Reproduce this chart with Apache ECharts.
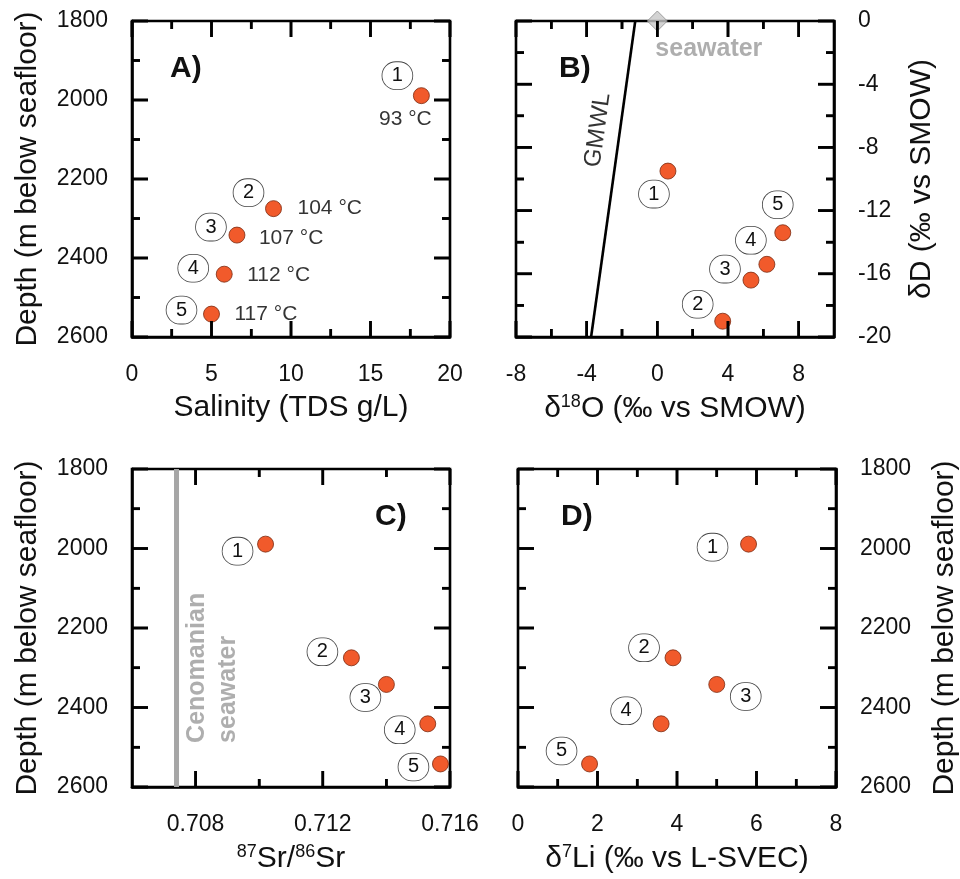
<!DOCTYPE html>
<html>
<head>
<meta charset="utf-8">
<script src="https://cdn.jsdelivr.net/npm/echarts@6/dist/echarts.min.js"></script>
<style>
  html, body { margin: 0; padding: 0; background: #fff; }
  #chart { width: 960px; height: 879px; }
</style>
</head>
<body>
<div id="chart"></div>
<script>
// fluid samples 1..5
const fluidIds = ['1', '2', '3', '4', '5'];
const depth = [1989, 2275, 2342, 2441, 2542];
const salinity = [18.2, 8.9, 6.6, 5.8, 5.0];
const temperature = [93, 104, 107, 112, 117];
const d18O = [0.6, 3.7, 5.3, 6.2, 7.1];
const dD = [-9.5, -19.0, -16.4, -15.4, -13.4];
const srRatio = [0.7102, 0.7129, 0.7140, 0.7153, 0.7157];
const d7Li = [5.8, 3.9, 5.0, 3.6, 1.8];

// reference lines
const seawater = [0, 0];
const gmwlO = [-3.75, -1.25];
const gmwlD = [-20, 0];
const cenomanianSr = 0.7074;

// tick labels (major ticks) and minor ticks
const depthTicks = [1800, 2000, 2200, 2400, 2600];
const depthMinor = [1900, 2100, 2300, 2500];
const salinityTicks = [0, 5, 10, 15, 20];
const salinityMinor = [2.5, 7.5, 12.5, 17.5];
const d18OTicks = [-8, -4, 0, 4, 8];
const d18OMinor = [-6, -2, 2, 6];
const dDTicks = [-20, -16, -12, -8, -4, 0];
const dDMinor = [-18, -14, -10, -6, -2];
const srTicks = [0.708, 0.712, 0.716];
const srMinor = [0.710, 0.714];
const liTicks = [0, 2, 4, 6, 8];
const liMinor = [1, 3, 5, 7];

// label offsets (px) for the circled numbers
const idOffsetA = [[-24, -20], [-25, -16], [-26, -8], [-31, -6], [-30, -4]];
const idOffsetB = [[-14, 23], [-25, -17], [-26, -11], [-16, -24], [-5, -28]];
const idOffsetC = [[-28, 7], [-29, -6], [-21, 13], [-28, 6], [-27, 3]];
const idOffsetD = [[-36, 3], [-29, -10], [29, 12], [-35, -13], [-28, -13]];
const tempOffsetA = [[-16, 24], [24, 0], [22, 3], [23, 1], [23, 0]];

const FONT = '"Liberation Sans", Arial, sans-serif';
const INK = '#111';
const MAJOR = 16, MINOR = 8, TICK_W = 2.6;

function onlyTicks(ticks, fmt) {
  return function (v) {
    for (let i = 0; i < ticks.length; i++) {
      if (Math.abs(ticks[i] - v) < 1e-9) return fmt ? fmt(v) : String(v);
    }
    return '';
  };
}

function axis(g, o, pos) {
  return {
    type: 'value', gridIndex: g, position: pos,
    min: o.min, max: o.max, interval: o.step, inverse: !!o.inverse,
    splitLine: { show: false },
    axisLine: { show: true, onZero: false, lineStyle: { color: '#000', width: 2.6 } },
    axisTick: { show: false },
    axisLabel: { formatter: onlyTicks(o.ticks, o.fmt), margin: o.margin,
      fontSize: 23, color: INK, fontFamily: FONT },
    name: o.name, nameLocation: 'middle', nameGap: o.nameGap, nameRotate: o.nameRotate || 0,
    nameTextStyle: {
      fontSize: 30, color: INK, fontFamily: FONT,
      rich: {
        n: { fontSize: 30, color: INK, fontFamily: FONT, lineHeight: 32 },
        s: { fontSize: 18, color: INK, fontFamily: FONT, verticalAlign: 'top', lineHeight: 20 }
      }
    }
  };
}

const depthCfg = function (gap) {
  return { min: 1800, max: 2600, step: 200, inverse: true, ticks: depthTicks, margin: 24,
    name: 'Depth (m below seafloor)', nameGap: gap, nameRotate: 90 };
};

const xAxes = [
  axis(0, { min: 0, max: 20, step: 5, ticks: salinityTicks, margin: 26,
    name: 'Salinity (TDS g/L)', nameGap: 56 }, 'bottom'),
  axis(1, { min: -8, max: 10, step: 2, ticks: d18OTicks, margin: 26,
    name: '{n|δ}{s|18}{n|O (‰ vs SMOW)}', nameGap: 56 }, 'bottom'),
  axis(2, { min: 0.706, max: 0.716, step: 0.002, ticks: srTicks, margin: 26,
    fmt: function (v) { return v.toFixed(3); },
    name: '{s|87}{n|Sr/}{s|86}{n|Sr}', nameGap: 56 }, 'bottom'),
  axis(3, { min: 0, max: 8, step: 2, ticks: liTicks, margin: 26,
    name: '{n|δ}{s|7}{n|Li (‰ vs L-SVEC)}', nameGap: 56 }, 'bottom')
];
const yAxes = [
  axis(0, depthCfg(89), 'left'),
  axis(1, { min: -20, max: 0, step: 4, ticks: dDTicks, margin: 24,
    name: 'δD (‰ vs SMOW)', nameGap: 73, nameRotate: 90 }, 'right'),
  axis(2, depthCfg(89), 'left'),
  axis(3, depthCfg(94), 'right')
];

// tick sets per panel: [xMajor, xMinor, yMajor, yMinor, edges(xLeft, xRight, yBottom, yTop)]
const panelTicks = [
  [salinityTicks, salinityMinor, depthTicks, depthMinor, [0, 20, 2600, 1800]],
  [d18OTicks, d18OMinor, dDTicks, dDMinor, [-8, 10, -20, 0]],
  [srTicks, srMinor, depthTicks, depthMinor, [0.706, 0.716, 2600, 1800]],
  [liTicks, liMinor, depthTicks, depthMinor, [0, 8, 2600, 1800]]
];

// inside tick marks as thin rect symbols, on their own canvas layer
function tickItems(t) {
  const e = t[4], items = [];
  function xTick(v, len) {
    items.push({ value: [v, e[2]], symbolSize: [TICK_W, len], symbolOffset: [0, -len / 2] });
    items.push({ value: [v, e[3]], symbolSize: [TICK_W, len], symbolOffset: [0, len / 2] });
  }
  function yTick(v, len) {
    items.push({ value: [e[0], v], symbolSize: [len, TICK_W], symbolOffset: [len / 2, 0] });
    items.push({ value: [e[1], v], symbolSize: [len, TICK_W], symbolOffset: [-len / 2, 0] });
  }
  t[0].forEach(function (v) { xTick(v, MAJOR); });
  t[1].forEach(function (v) { xTick(v, MINOR); });
  t[2].forEach(function (v) { yTick(v, MAJOR); });
  t[3].forEach(function (v) { yTick(v, MINOR); });
  return items;
}

function ticks(g) {
  return { type: 'scatter', xAxisIndex: g, yAxisIndex: g, silent: true, clip: false,
    zlevel: 1, z: 10, symbol: 'rect', itemStyle: { color: '#000', borderWidth: 0, opacity: 1 },
    data: tickItems(panelTicks[g]) };
}

const idLabel = {
  show: true, position: 'inside',
  formatter: function (p) { return '{c|' + fluidIds[p.dataIndex] + '}'; },
  rich: {
    c: { width: 30, height: 27, lineHeight: 27, align: 'center', borderRadius: 15,
      borderColor: '#444', borderWidth: 0.8, backgroundColor: '#fff',
      fontSize: 20, color: INK, fontFamily: FONT }
  }
};

const dotStyle = { color: '#F15A2B', borderColor: '#7a2a10', borderWidth: 0.8, opacity: 1 };
const plainText = { color: '#000', textBorderWidth: 0, fontFamily: FONT };

function points(g, xs, ys, offsets) {
  return {
    type: 'scatter', xAxisIndex: g, yAxisIndex: g, clip: false, z: 5,
    symbolSize: 16, itemStyle: dotStyle, label: idLabel,
    data: xs.map(function (v, i) {
      return { value: [v, ys[i]], label: { offset: offsets[i] } };
    })
  };
}

const series = [
  points(0, salinity, depth, idOffsetA),
  {
    type: 'scatter', xAxisIndex: 0, yAxisIndex: 0, symbolSize: 0, clip: false,
    label: Object.assign({
      show: true, position: 'inside', align: 'left', fontSize: 21,
      formatter: function (p) { return temperature[p.dataIndex] + ' °C'; }
    }, plainText),
    data: salinity.map(function (v, i) {
      return { value: [v, depth[i]],
        label: { offset: tempOffsetA[i], align: i === 0 ? 'center' : 'left' } };
    })
  },
  {
    type: 'line', xAxisIndex: 1, yAxisIndex: 1, symbol: 'none', clip: false,
    lineStyle: { color: '#000', width: 2.6 },
    data: gmwlO.map(function (v, i) { return [v, gmwlD[i]]; })
  },
  {
    type: 'scatter', xAxisIndex: 1, yAxisIndex: 1, symbolSize: 0,
    label: Object.assign({ show: true, position: 'inside', formatter: 'GMWL', rotate: 82,
      fontSize: 24 }, plainText),
    data: [[-3.36, -6.9]]
  },
  {
    type: 'scatter', xAxisIndex: 1, yAxisIndex: 1, symbol: 'diamond',
    symbolSize: [20, 20], clip: false, z: 6,
    itemStyle: { color: '#c8c8c8', borderColor: '#8c8c8c', borderWidth: 1 },
    label: { show: true, position: 'inside', align: 'left', offset: [-2, 28], formatter: 'seawater',
      fontSize: 25, fontWeight: 'bold', color: '#9a9a9a', textBorderWidth: 0, fontFamily: FONT },
    data: [seawater]
  },
  points(1, d18O, dD, idOffsetB),
  {
    type: 'line', xAxisIndex: 2, yAxisIndex: 2, symbol: 'none',
    lineStyle: { color: '#a6a6a6', width: 5 },
    data: [[cenomanianSr, 1800], [cenomanianSr, 2600]]
  },
  {
    type: 'scatter', xAxisIndex: 2, yAxisIndex: 2, symbolSize: 0,
    label: { show: true, position: 'inside', align: 'left', verticalAlign: 'middle', rotate: 90,
      formatter: 'Cenomanian\nseawater', lineHeight: 31, textBorderWidth: 0,
      fontSize: 25, fontWeight: 'bold', color: '#9a9a9a', fontFamily: FONT },
    data: [[0.70853, 2489]]
  },
  points(2, srRatio, depth, idOffsetC),
  points(3, d7Li, depth, idOffsetD),
  ticks(0), ticks(1), ticks(2), ticks(3)
];

const frame = { show: true, borderColor: '#000', borderWidth: 2.6, backgroundColor: 'transparent',
  outerBoundsMode: 'none' };

const panelText = function (t, x, y) {
  return { type: 'text', left: x, top: y,
    style: { text: t, fontSize: 30, fontWeight: 'bold', fill: INK, fontFamily: FONT } };
};
const panelLetters = [
  panelText('A)', 170, 54),
  panelText('B)', 559, 54),
  panelText('C)', 375, 502),
  panelText('D)', 561, 502)
];

const chart = echarts.init(document.getElementById('chart'));
chart.setOption({
  animation: false,
  grid: [
    Object.assign({ left: 132, top: 21, width: 318, height: 316 }, frame),
    Object.assign({ left: 516, top: 21, width: 318, height: 316 }, frame),
    Object.assign({ left: 132, top: 469, width: 318, height: 318 }, frame),
    Object.assign({ left: 518, top: 469, width: 318, height: 318 }, frame)
  ],
  xAxis: xAxes,
  yAxis: yAxes,
  series: series,
  graphic: panelLetters
});

// second pass: the same ticks as graphic lines on a top layer, placed through the axes
const tickLines = [];
panelTicks.forEach(function (t, g) {
  const e = t[4];
  const lb = chart.convertToPixel({ gridIndex: g }, [e[0], e[2]]);
  const rt = chart.convertToPixel({ gridIndex: g }, [e[1], e[3]]);
  function seg(x1, y1, x2, y2) {
    tickLines.push({ type: 'line', silent: true, zlevel: 2, z: 10,
      shape: { x1: x1, y1: y1, x2: x2, y2: y2 },
      style: { stroke: '#000', lineWidth: TICK_W } });
  }
  function xTick(v, len) {
    const px = chart.convertToPixel({ gridIndex: g }, [v, e[2]])[0];
    seg(px, lb[1], px, lb[1] - len);
    seg(px, rt[1], px, rt[1] + len);
  }
  function yTick(v, len) {
    const py = chart.convertToPixel({ gridIndex: g }, [e[0], v])[1];
    seg(lb[0], py, lb[0] + len, py);
    seg(rt[0], py, rt[0] - len, py);
  }
  t[0].forEach(function (v) { xTick(v, MAJOR); });
  t[1].forEach(function (v) { xTick(v, MINOR); });
  t[2].forEach(function (v) { yTick(v, MAJOR); });
  t[3].forEach(function (v) { yTick(v, MINOR); });
});
chart.setOption({ graphic: panelLetters.concat(tickLines) });
</script>
</body>
</html>
